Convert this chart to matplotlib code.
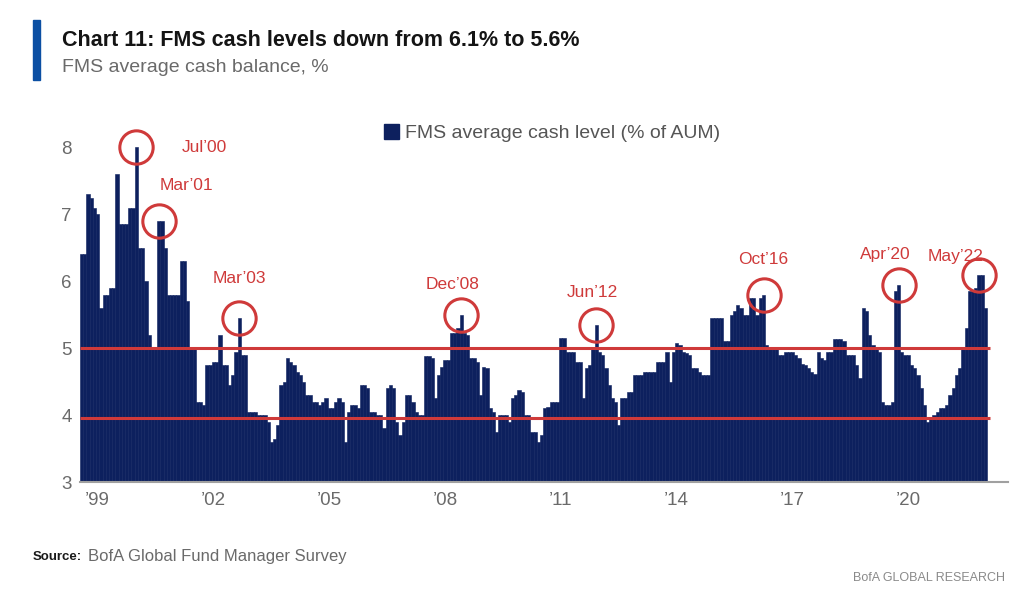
import matplotlib
matplotlib.use("Agg")
import matplotlib.pyplot as plt
import numpy as np
import pandas as pd
from matplotlib.patches import Patch, Rectangle


# FMS average cash level (% of AUM), monthly, Jan 1999 - Jun 2022
cash_1999 = [6.4, 6.4, 7.3, 7.25, 7.1, 7.0, 5.6, 5.8, 5.8, 5.9, 5.9, 7.6]
cash_2000 = [6.85, 6.85, 6.85, 7.1, 7.1, 8.0, 6.5, 6.5, 6.0, 5.2, 5.0, 5.0]
cash_2001 = [6.9, 6.9, 6.5, 5.8, 5.8, 5.8, 5.8, 6.3, 6.3, 5.7, 5.0, 5.0]
cash_2002 = [4.2, 4.2, 4.15, 4.75, 4.75, 4.8, 4.8, 5.2, 4.75, 4.75, 4.45, 4.6]
cash_2003 = [4.95, 5.45, 4.9, 4.9, 4.05, 4.05, 4.05, 4.0, 4.0, 4.0, 3.9, 3.6]
cash_2004 = [3.65, 3.85, 4.45, 4.5, 4.85, 4.8, 4.75, 4.65, 4.6, 4.5, 4.3, 4.3]
cash_2005 = [4.2, 4.2, 4.15, 4.2, 4.25, 4.1, 4.1, 4.2, 4.25, 4.2, 3.6, 4.05]
cash_2006 = [4.15, 4.15, 4.1, 4.45, 4.45, 4.4, 4.05, 4.05, 4.0, 4.0, 3.8, 4.4]
cash_2007 = [4.45, 4.4, 3.9, 3.7, 3.9, 4.3, 4.3, 4.2, 4.05, 4.0, 4.0, 4.88]
cash_2008 = [4.88, 4.85, 4.25, 4.6, 4.72, 4.83, 4.83, 5.22, 5.22, 5.3, 5.5, 5.22]
cash_2009 = [5.2, 4.85, 4.85, 4.8, 4.3, 4.72, 4.7, 4.1, 4.05, 3.75, 4.0, 4.0]
cash_2010 = [4.0, 3.9, 4.25, 4.3, 4.38, 4.35, 4.0, 4.0, 3.75, 3.75, 3.6, 3.7]
cash_2011 = [4.1, 4.12, 4.2, 4.2, 4.2, 5.15, 5.15, 4.95, 4.95, 4.95, 4.8, 4.8]
cash_2012 = [4.25, 4.7, 4.75, 5.0, 5.35, 4.95, 4.9, 4.7, 4.45, 4.25, 4.2, 3.85]
cash_2013 = [4.25, 4.25, 4.35, 4.35, 4.6, 4.6, 4.6, 4.65, 4.65, 4.65, 4.65, 4.8]
cash_2014 = [4.8, 4.8, 4.95, 4.5, 4.95, 5.08, 5.05, 4.95, 4.93, 4.9, 4.7, 4.7]
cash_2015 = [4.65, 4.6, 4.6, 4.6, 5.45, 5.45, 5.45, 5.45, 5.1, 5.1, 5.5, 5.55]
cash_2016 = [5.65, 5.6, 5.5, 5.5, 5.75, 5.75, 5.5, 5.75, 5.8, 5.05, 5.0, 5.0]
cash_2017 = [5.0, 4.9, 4.9, 4.95, 4.95, 4.95, 4.9, 4.85, 4.77, 4.75, 4.7, 4.65]
cash_2018 = [4.62, 4.95, 4.85, 4.83, 4.95, 4.95, 5.13, 5.13, 5.13, 5.1, 4.9, 4.9]
cash_2019 = [4.9, 4.75, 4.55, 5.6, 5.55, 5.2, 5.05, 5.0, 4.95, 4.2, 4.15, 4.15]
cash_2020 = [4.2, 5.85, 5.95, 4.95, 4.9, 4.9, 4.75, 4.7, 4.6, 4.4, 4.15, 3.9]
cash_2021 = [3.95, 4.0, 4.05, 4.1, 4.1, 4.15, 4.3, 4.4, 4.6, 4.7, 5.0, 5.3]
cash_2022 = [5.85, 5.85, 5.9, 6.1, 6.1, 5.6]

# 标注的峰值月份
peak_labels = ["Jul’00", "Mar’01", "Mar’03", "Dec’08", "Jun’12", "Oct’16", "Apr’20", "May’22"]
peak_months = ["2000-07", "2001-03", "2003-03", "2008-12", "2012-06", "2016-10", "2020-04", "2022-05"]

# 两条参考线
reference_levels = [5.0, 3.95]

year_ticks = list(range(1999, 2021, 3))
tick_labels = [f"’{y % 100:02d}" for y in year_ticks]

NAVY = "#0d205e"
RED = "#cf3a3a"
GREY = "#6a6a6a"

cash = np.array(
    cash_1999 + cash_2000 + cash_2001 + cash_2002 + cash_2003 + cash_2004
    + cash_2005 + cash_2006 + cash_2007 + cash_2008 + cash_2009 + cash_2010
    + cash_2011 + cash_2012 + cash_2013 + cash_2014 + cash_2015 + cash_2016
    + cash_2017 + cash_2018 + cash_2019 + cash_2020 + cash_2021 + cash_2022
)
dates = pd.date_range("1999-01-01", periods=len(cash), freq="MS")
x = np.arange(len(cash))

plt.rcParams["font.family"] = ["Liberation Sans", "DejaVu Sans"]

fig = plt.figure(figsize=(10.11, 5.90), dpi=100)
ax = fig.add_axes([80 / 1011, 0.183, 928 / 1011, 0.624])

ax.bar(x, cash, width=1.0, color=NAVY, edgecolor=NAVY, linewidth=0.4, zorder=2)

for level in reference_levels:
    ax.hlines(level, -0.5, len(cash) + 0.5, color=RED, linewidth=2.2, zorder=3)

# 圆圈：在标注月份附近找最高的柱子
# offsets in pixels for the label text, relative to the circled bar top
label_offsets = [(68, 0), (28, 35), (0, 40), (-9, 30), (-4, 32), (0, 35), (-13, 30), (-23, 18)]
for label, month, offset in zip(peak_labels, peak_months, label_offsets):
    centre = dates.get_loc(pd.Timestamp(month + "-01"))
    lo = max(centre - 2, 0)
    hi = min(centre + 3, len(cash))
    idx = lo + int(np.argmax(cash[lo:hi]))
    ax.plot(idx, cash[idx], marker="o", markersize=24, markerfacecolor="none",
            markeredgecolor=RED, markeredgewidth=2.2, zorder=4, clip_on=False)
    ax.annotate(label, (idx, cash[idx]), xytext=offset, textcoords="offset pixels",
                ha="center", va="center", color=RED, fontsize=12.5)

ax.set_xlim(-0.5, 288)
ax.set_ylim(3, 8.5)
ax.set_yticks(range(3, 9))
tick_pos = [dates.get_loc(pd.Timestamp(f"{y}-06-01")) for y in year_ticks]
ax.set_xticks(tick_pos)
ax.set_xticklabels(tick_labels)
ax.tick_params(axis="both", length=0, colors=GREY, labelsize=13.5)
ax.tick_params(axis="y", pad=6)
ax.tick_params(axis="x", pad=7)

for side in ["left", "top", "right"]:
    ax.spines[side].set_visible(False)
ax.spines["bottom"].set_color("#a0a0a0")
ax.spines["bottom"].set_linewidth(1.5)

ax.legend(
    handles=[Patch(facecolor=NAVY, edgecolor=NAVY)],
    labels=["FMS average cash level (% of AUM)"],
    loc="center",
    bbox_to_anchor=(552 / 1011, 1 - 133 / 590),
    bbox_transform=fig.transFigure,
    frameon=False,
    fontsize=14,
    labelcolor="#555555",
    handlelength=0.8,
    handleheight=0.8,
    handletextpad=0.3,
)

# 标题区域
fig.add_artist(Rectangle((33 / 1011, 1 - 80 / 590), 7 / 1011, 60 / 590,
                         transform=fig.transFigure, color="#0b4fa3"))
fig.text(62 / 1011, 1 - 40 / 590, "Chart 11: FMS cash levels down from 6.1% to 5.6%",
         fontsize=15.5, fontweight="bold", color="#141414", va="center")
fig.text(62 / 1011, 1 - 68 / 590, "FMS average cash balance, %",
         fontsize=14, color=GREY, va="center")

fig.text(33 / 1011, 1 - 557 / 590, "Source:", fontsize=9.5, fontweight="bold",
         color="#1a1a1a", va="center")
fig.text(88 / 1011, 1 - 557 / 590, "BofA Global Fund Manager Survey", fontsize=12,
         color=GREY, va="center")
fig.text(1005 / 1011, 1 - 578 / 590, "BofA GLOBAL RESEARCH", fontsize=9,
         color="#8a8a8a", ha="right", va="center")

fig.savefig("out.png", dpi=100)
